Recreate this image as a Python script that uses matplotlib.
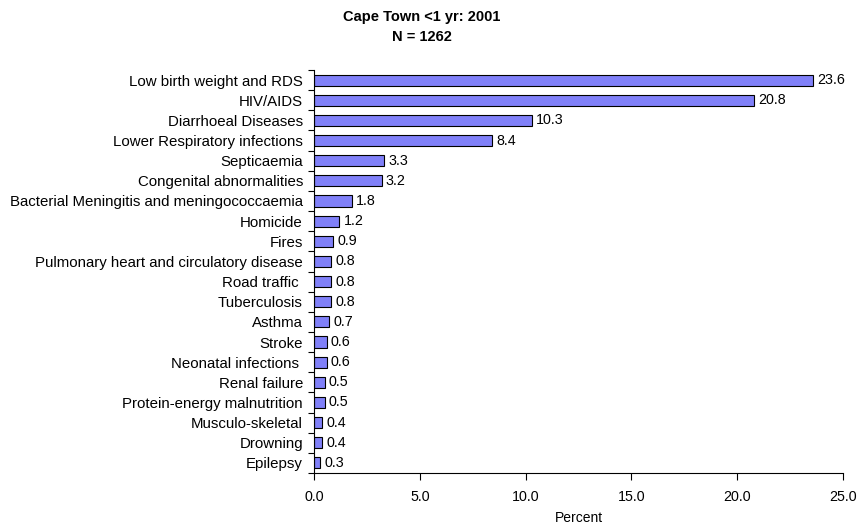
import matplotlib
matplotlib.use("Agg")
import matplotlib.pyplot as plt
import numpy as np

categories = ["Low birth weight and RDS", "HIV/AIDS", "Diarrhoeal Diseases",
              "Lower Respiratory infections", "Septicaemia", "Congenital abnormalities",
              "Bacterial Meningitis and meningococcaemia", "Homicide", "Fires",
              "Pulmonary heart and circulatory disease", "Road traffic ", "Tuberculosis",
              "Asthma", "Stroke", "Neonatal infections ", "Renal failure",
              "Protein-energy malnutrition", "Musculo-skeletal", "Drowning", "Epilepsy"]
values = [23.6, 20.8, 10.3, 8.4, 3.3, 3.2, 1.8, 1.2, 0.9, 0.8, 0.8, 0.8,
          0.7, 0.6, 0.6, 0.5, 0.5, 0.4, 0.4, 0.3]
xticks = [0, 5, 10, 15, 20, 25]

plt.rcParams['font.family'] = ['Liberation Sans', 'DejaVu Sans']

fig = plt.figure(figsize=(8.59, 5.30), dpi=100)
ax = fig.add_axes([314/859, 1-473/530, (843-314)/859, (473-70)/530])

y = np.arange(len(categories))
ax.barh(y, values, height=0.55, color='#8080F8', edgecolor='black', linewidth=0.8)
for yi, v in zip(y, values):
    ax.text(v + 0.2, yi, f"{v:.1f}", va='center', ha='left', fontsize=10.3)

ax.set_ylim(len(categories) - 0.5, -0.5)
ax.set_xlim(0, 25)
ax.set_yticks(y)
ax.set_yticklabels(categories, fontsize=10.8)
ax.set_yticks(np.arange(-0.5, len(categories), 1), minor=True)
ax.tick_params(axis='y', which='major', length=0, pad=8)
ax.tick_params(axis='y', which='minor', length=4, width=0.8, direction='out')
ax.set_xticks(xticks)
ax.set_xticklabels([f"{t:.1f}" for t in xticks], fontsize=10.3)
ax.tick_params(axis='x', length=5, width=0.8, direction='out', pad=7)
ax.set_xlabel("Percent", fontsize=10, labelpad=5)

for s in ['top', 'right']:
    ax.spines[s].set_visible(False)
for s in ['left', 'bottom']:
    ax.spines[s].set_linewidth(0.8)

fig.text(422/859, 1 - 17/530, "Cape Town <1 yr: 2001", ha='center', va='center',
         fontsize=10.5, fontweight='bold')
fig.text(422/859, 1 - 37/530, "N = 1262", ha='center', va='center',
         fontsize=10.5, fontweight='bold')

fig.savefig("out.png", dpi=100)
